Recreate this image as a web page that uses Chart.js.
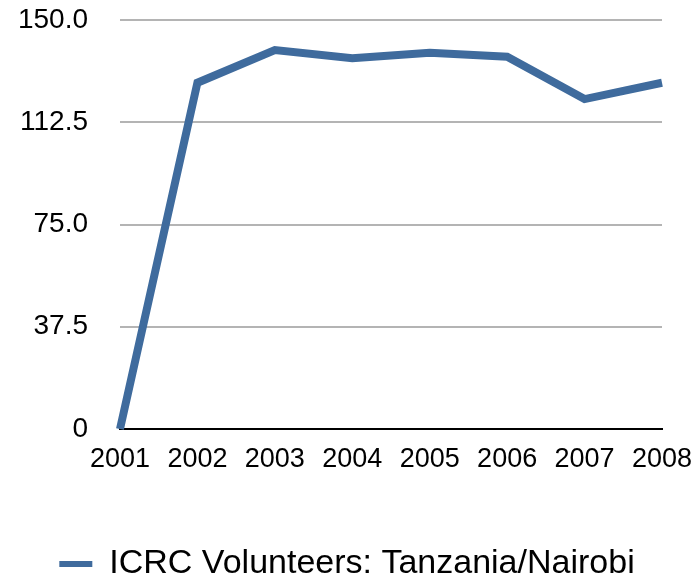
<!DOCTYPE html>
<html>
<head>
<meta charset="utf-8">
<script src="https://cdn.jsdelivr.net/npm/chart.js@4/dist/chart.umd.min.js"></script>
<style>
html,body{margin:0;padding:0;background:#fff;}
#wrap{width:698px;height:579px;}
</style>
</head>
<body>
<div id="wrap"><canvas id="c" width="698" height="579"></canvas></div>
<script>
const years = ["2001","2002","2003","2004","2005","2006","2007","2008"];
const volunteers = [0,127,139,136,138,136.5,121,127];
const yTickValues = [0,37.5,75,112.5,150];
const yTickLabels = ["0","37.5","75.0","112.5","150.0"];
const seriesName = "ICRC Volunteers: Tanzania/Nairobi";
const lineColor = "#3f6b9d";

const FAMILY = "'Liberation Sans', Arial, Helvetica, sans-serif";
const YFONT = {family:FAMILY, size:28};
const XFONT = {family:FAMILY, size:27};
const LFONT = {family:FAMILY, size:34};

const legendShift = {
  id:'legendShift',
  afterLayout(chart){
    const lg = chart.legend;
    if (lg) { lg.left += 16; lg.right += 16; }
  }
};

new Chart(document.getElementById('c'), {
  type:'line',
  data:{
    labels: years,
    datasets:[{
      label: seriesName,
      data: volunteers,
      borderColor: lineColor,
      backgroundColor: lineColor,
      borderWidth: 8,
      pointRadius: 0,
      tension: 0,
      borderJoinStyle: 'miter',
      clip: false
    }]
  },
  plugins:[legendShift],
  options:{
    responsive:false,
    animation:false,
    layout:{padding:{top:20,right:36,left:0,bottom:-12}},
    plugins:{
      tooltip:{enabled:false},
      legend:{
        position:'bottom',
        labels:{
          font:LFONT,
          color:'#000',
          padding:0,
          boxWidth:33,
          boxHeight:6,
          generateLabels:(chart)=>[{
            text: seriesName,
            fillStyle: lineColor,
            strokeStyle: lineColor,
            lineWidth: 0,
            datasetIndex: 0,
            hidden:false
          }]
        }
      }
    },
    scales:{
      x:{
        offset:false,
        grid:{display:false, drawTicks:false},
        border:{display:true, color:'#000', width:2},
        ticks:{font:XFONT, color:'#000', padding:14, maxRotation:0, autoSkip:false},
        afterFit:(s)=>{ s.height = 118; s.paddingLeft = 0; s.paddingRight = 0; }
      },
      y:{
        min:0, max:150,
        afterBuildTicks:(s)=>{ s.ticks = yTickValues.map(v=>({value:v})); },
        ticks:{
          font:YFONT, color:'#000', padding:32,
          callback:(v)=>{ const i = yTickValues.indexOf(v); return i>=0 ? yTickLabels[i] : ''; }
        },
        grid:{
          drawTicks:false,
          lineWidth:2,
          color:(ctx)=> ctx.tick && ctx.tick.value===0 ? 'rgba(0,0,0,0)' : '#b4b4b4'
        },
        border:{display:false},
        afterFit:(s)=>{ s.width = 120; s.paddingTop = 0; s.paddingBottom = 0; }
      }
    }
  }
});
</script>
</body>
</html>
